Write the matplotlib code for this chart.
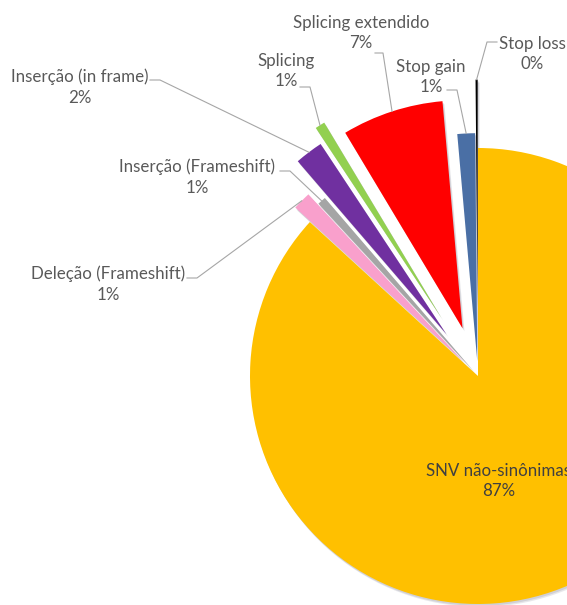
import matplotlib.pyplot as plt
import numpy as np
from matplotlib.patches import Wedge

plt.rcParams['font.family'] = ['Lato', 'DejaVu Sans']

categorias = ["SNV não-sinônimas", "Deleção (Frameshift)", "Inserção (Frameshift)",
              "Inserção (in frame)", "Splicing", "Splicing extendido",
              "Stop gain", "Stop loss"]
percentuais = [86.8, 1.3, 0.6, 2.0, 0.7, 7.2, 1.25, 0.15]
cores = ["#FFC000", "#F9A0CC", "#A5A5A5", "#7030A0", "#92D050",
         "#FF0000", "#4A6FA5", "#000000"]
afastamento = [0, 0.09, 0.03, 0.23, 0.30, 0.22, 0.065, 0.30]

# layout em pixels (imagem 567x605), centro e raio da pizza
W, H = 567, 605
CX, CY, R = 478, 376, 228


def px(x, y):
    return (x - CX) / R, (CY - y) / R


fig = plt.figure(figsize=(W / 100, H / 100), dpi=100)
ax = fig.add_axes([0, 0, 1, 1])

wedges, _ = ax.pie(percentuais, colors=cores, explode=afastamento,
                   startangle=90, counterclock=False, radius=1,
                   wedgeprops=dict(linewidth=0))

# sombra leve embaixo das fatias
for w in wedges:
    cx, cy = w.center
    for k, a in [(1.0, 0.18), (0.6, 0.22)]:
        s = Wedge((cx + k * 2 / R, cy - k * 3 / R), w.r, w.theta1, w.theta2,
                  facecolor="#7f7f8f", alpha=a, linewidth=0, zorder=0.5)
        ax.add_patch(s)
    w.set_zorder(1)

# posicao dos rotulos (centro do bloco) e inicio/cotovelo da linha guia
rotulos = {
    0: dict(pos=(499, 481), linha=None),
    1: dict(pos=(108, 284), linha=[(187, 278), (197, 278)]),
    2: dict(pos=(197, 177), linha=[(280, 171), (290, 171)]),
    3: dict(pos=(80, 87), linha=[(150, 80), (160, 80)]),
    4: dict(pos=(286, 71), linha=[(300, 87), (310, 87)]),
    5: dict(pos=(361, 33), linha=[(375, 53), (383, 53)]),
    6: dict(pos=(431, 77), linha=[(447, 90), (457, 90)]),
    7: dict(pos=(532, 54), linha=[(497, 42), (487, 42)]),
}

for i, (nome, p) in enumerate(zip(categorias, percentuais)):
    info = rotulos[i]
    cor_txt = "#404040" if i == 0 else "#595959"
    ax.text(*px(*info["pos"]), f"{nome}\n{p:.0f}%", ha="center", va="center",
            fontsize=12.2, color=cor_txt, linespacing=1.35, zorder=3)
    if info["linha"]:
        w = wedges[i]
        meio = np.deg2rad((w.theta1 + w.theta2) / 2)
        fim = (w.center[0] + w.r * np.cos(meio), w.center[1] + w.r * np.sin(meio))
        pts = [px(*q) for q in info["linha"]] + [fim]
        xs, ys = zip(*pts)
        ax.plot(xs, ys, color="#A6A6A6", lw=0.8, zorder=2)

ax.set_xlim(-CX / R, (W - CX) / R)
ax.set_ylim((CY - H) / R, CY / R)
ax.set_aspect("equal")
ax.axis("off")

fig.savefig("out.png", dpi=100, facecolor="white")
